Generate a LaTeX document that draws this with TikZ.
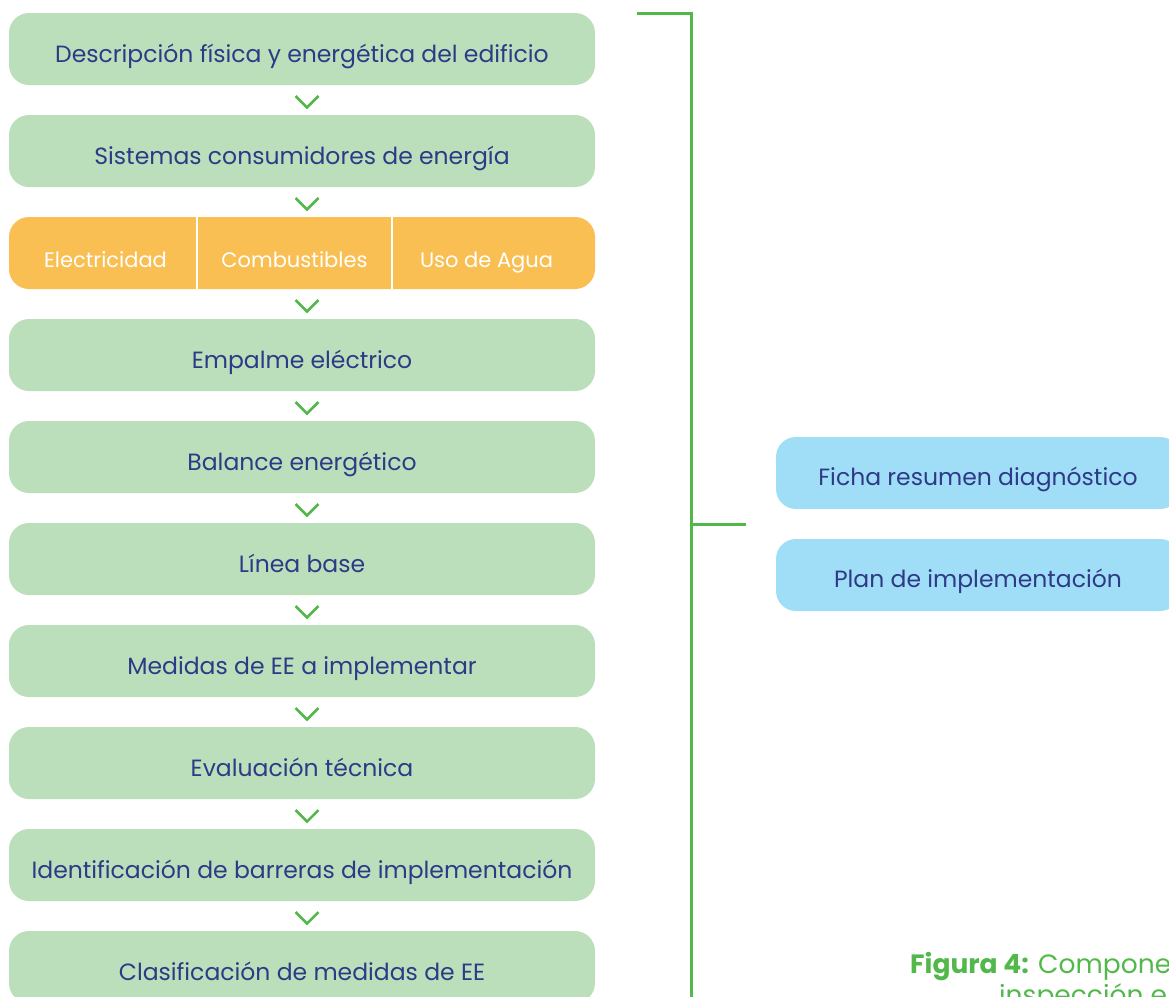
\documentclass[tikz,border=0pt]{standalone}
\usepackage{fontspec}
\setmainfont{Poppins}
\usetikzlibrary{positioning,calc}

\definecolor{boxgreen}{HTML}{BBDFBA}
\definecolor{boxorange}{HTML}{F9BF53}
\definecolor{boxblue}{HTML}{A0DEF7}
\definecolor{textblue}{HTML}{2E3A87}
\definecolor{linegreen}{HTML}{52B84A}

\tikzset{
  stepbox/.style={fill=boxgreen, rounded corners=20pt, minimum width=586pt,
    minimum height=72pt, inner sep=0pt, outer sep=0pt, text=textblue, text height=26pt,
    text depth=0pt, font=\fontsize{23.5}{28}\selectfont},
  fuentebox/.style={stepbox, fill=boxorange},
  fuentetext/.style={inner sep=0pt, text=white, text height=28pt, text depth=0pt,
    font=\fontsize{21}{25}\selectfont},
  resultbox/.style={stepbox, fill=boxblue, minimum width=404pt, text height=25pt},
  chevron/.style={draw=linegreen, line width=2.5pt},
  bracket/.style={draw=linegreen, line width=3pt},
  caption/.style={inner sep=0pt, text=linegreen, font=\fontsize{26.5}{30}\selectfont}
}

\begin{document}
\begin{tikzpicture}[x=1pt,y=-1pt]
  \path[use as bounding box] (0,0) rectangle (1169,996);
  \clip (0,0) rectangle (1169,996);

  % etapas del diagnostico
  \node[stepbox] (desc) at (302,49) {Descripción física y energética del edificio};
  \node[stepbox, below=30pt of desc] (sist) {Sistemas consumidores de energía};
  \node[fuentebox, below=30pt of sist] (fuentes) {};
  \node[stepbox, below=30pt of fuentes] (empalme) {Empalme eléctrico};
  \node[stepbox, below=30pt of empalme] (balance) {Balance energético};
  \node[stepbox, below=30pt of balance] (linea) {Línea base};
  \node[stepbox, below=30pt of linea] (medidas) {Medidas de EE a implementar};
  \node[stepbox, below=30pt of medidas] (eval) {Evaluación técnica};
  \node[stepbox, below=30pt of eval] (barreras) {Identificación de barreras de implementación};
  \node[stepbox, below=30pt of barreras] (clasif) {Clasificación de medidas de EE};

  % fuentes de energia
  \draw[white, line width=1.5pt] ([xshift=188pt]fuentes.north west) -- ([xshift=188pt]fuentes.south west);
  \draw[white, line width=1.5pt] ([xshift=383pt]fuentes.north west) -- ([xshift=383pt]fuentes.south west);
  \node[fuentetext] (elec) at ([xshift=96.5pt]fuentes.west) {Electricidad};
  \node[fuentetext] (comb) at ([xshift=285.5pt]fuentes.west) {Combustibles};
  \node[fuentetext] (agua) at ([xshift=477.5pt]fuentes.west) {Uso de Agua};

  % flechas
  \foreach \a/\b in {desc/sist, sist/fuentes, fuentes/empalme, empalme/balance,
      balance/linea, linea/medidas, medidas/eval, eval/barreras, barreras/clasif}
    \draw[chevron] ($(\a.south)!0.5!(\b.north)$) ++(-6.5,-4) -- ++(11.5,11.5) -- ++(11.5,-11.5);

  % resultados
  \node[resultbox] (ficha) at (978,473) {Ficha resumen diagnóstico};
  \node[resultbox, below=30pt of ficha] (plan) {Plan de implementación};

  % llave
  \coordinate (brtop) at ($(desc.north east)+(42,0)$);
  \coordinate (brcorner) at ($(desc.north east)+(96,0)$);
  \coordinate (brbottom) at ($(brcorner)+(0,1010)$);
  \coordinate (brmid) at ($(ficha.south west)!0.5!(plan.north west)$);
  \coordinate (brtip) at ($(brmid)+(-30,0)$);
  \draw[bracket] (brtop) -- (brcorner) -- (brbottom);
  \draw[bracket] (brcorner |- brtip) -- (brtip);

  % pie de figura
  \node[caption, anchor=base west] (fig) at (910,973) {\textbf{Figura 4:} Compone};
  \node[caption, anchor=base west] (figb) at (999,1004) {inspección e};
\end{tikzpicture}
\end{document}
